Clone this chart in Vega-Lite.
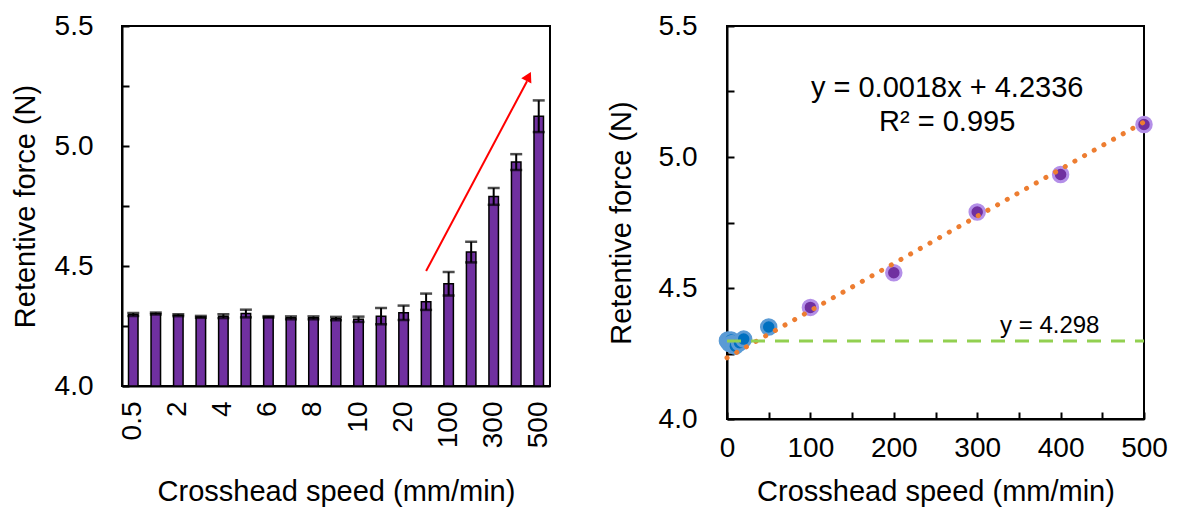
{
  "$schema": "https://vega.github.io/schema/vega-lite/v6.json",
  "background": "white",
  "padding": {"left": 10, "top": 11, "right": 0, "bottom": 0},
  "config": {
    "font": "Liberation Sans",
    "view": {"stroke": "black", "strokeWidth": 2},
    "axis": {
      "grid": false,
      "labelFlush": false,
      "domainColor": "black",
      "domainWidth": 2,
      "tickColor": "black",
      "tickWidth": 2,
      "labelColor": "black",
      "titleColor": "black",
      "labelFont": "Liberation Sans",
      "titleFont": "Liberation Sans",
      "labelFontSize": 28,
      "titleFontSize": 29,
      "titleFontWeight": "normal"
    }
  },
  "datasets": {
    "bars": [
      {"speed": 0.5, "label": "0.5", "force": 4.298, "sd": 0.006, "group": "low"},
      {"speed": 1, "label": "1", "force": 4.302, "sd": 0.004, "group": "low"},
      {"speed": 2, "label": "2", "force": 4.295, "sd": 0.004, "group": "low"},
      {"speed": 3, "label": "3", "force": 4.288, "sd": 0.004, "group": "low"},
      {"speed": 4, "label": "4", "force": 4.291, "sd": 0.008, "group": "low"},
      {"speed": 5, "label": "5", "force": 4.302, "sd": 0.016, "group": "low"},
      {"speed": 6, "label": "6", "force": 4.288, "sd": 0.003, "group": "low"},
      {"speed": 7, "label": "7", "force": 4.284, "sd": 0.006, "group": "low"},
      {"speed": 8, "label": "8", "force": 4.284, "sd": 0.006, "group": "low"},
      {"speed": 9, "label": "9", "force": 4.281, "sd": 0.007, "group": "low"},
      {"speed": 10, "label": "10", "force": 4.278, "sd": 0.011, "group": "low"},
      {"speed": 15, "label": "15", "force": 4.291, "sd": 0.034, "group": "low"},
      {"speed": 20, "label": "20", "force": 4.305, "sd": 0.03, "group": "low"},
      {"speed": 50, "label": "50", "force": 4.351, "sd": 0.034, "group": "low"},
      {"speed": 100, "label": "100", "force": 4.426, "sd": 0.049, "group": "high"},
      {"speed": 200, "label": "200", "force": 4.558, "sd": 0.043, "group": "high"},
      {"speed": 300, "label": "300", "force": 4.79, "sd": 0.035, "group": "high"},
      {"speed": 400, "label": "400", "force": 4.933, "sd": 0.033, "group": "high"},
      {"speed": 500, "label": "500", "force": 5.124, "sd": 0.066, "group": "high"}
    ],
    "arrow": [
      {"ax": 13.5, "ay": 4.479},
      {"ax": 17.98, "ay": 5.27}
    ],
    "arrowhead": [
      {"ax": 18.05, "ay": 5.29}
    ],
    "trend": [
      {"tx": 0, "ty": 4.2336},
      {"tx": 500, "ty": 5.1336}
    ],
    "base": [
      {"tx": 0, "ty": 4.298},
      {"tx": 500, "ty": 4.298}
    ],
    "eq": [
      {"tx": 264, "ty": 5.262, "text": "y = 0.0018x + 4.2336"},
      {"tx": 264, "ty": 5.134, "text": "R² = 0.995"}
    ],
    "baselab": [
      {"tx": 387, "ty": 4.355, "text": "y = 4.298"}
    ]
  },
  "spacing": 52,
  "hconcat": [
    {
      "width": 428,
      "height": 360,
      "layer": [
        {
          "data": {"name": "bars"},
          "layer": [
            {
              "mark": {"type": "bar", "size": 9.5, "fill": "#7030A0", "stroke": "black", "strokeWidth": 1.5},
              "encoding": {
                "x": {
                  "field": "label", "type": "ordinal", "sort": null,
                  "scale": {"paddingInner": 0.5, "paddingOuter": 0.25},
                  "axis": {
                    "values": ["0.5", "2", "4", "6", "8", "10", "20", "100", "300", "500"],
                    "labelAngle": -90, "ticks": false, "labelPadding": 15,
                    "title": "Crosshead speed (mm/min)", "titlePadding": 30
                  }
                },
                "y": {
                  "field": "force", "type": "quantitative",
                  "scale": {"domain": [4, 5.5], "nice": false, "zero": false},
                  "axis": {
                    "values": [4, 4.25, 4.5, 4.75, 5, 5.25, 5.5],
                    "labelExpr": "datum.value % 0.5 == 0 ? format(datum.value, '.1f') : ''",
                    "tickSize": -7, "labelPadding": 36,
                    "title": "Retentive force (N)", "titlePadding": 14
                  }
                },
                "y2": {"datum": 4}
              }
            },
            {
              "mark": {
                "type": "errorbar",
                "rule": {"strokeWidth": 2, "color": "black"},
                "ticks": {"size": 12, "thickness": 2.5, "color": "black"}
              },
              "encoding": {
                "x": {"field": "label", "type": "ordinal", "sort": null},
                "y": {"field": "force", "type": "quantitative", "title": "Retentive force (N)"},
                "yError": {"field": "sd"}
              }
            }
          ]
        },
        {
          "layer": [
            {
              "data": {"name": "arrow"},
              "mark": {"type": "line", "color": "#FF0000", "strokeWidth": 2},
              "encoding": {
                "x": {"field": "ax", "type": "quantitative", "scale": {"domain": [0, 19], "nice": false, "zero": false}, "axis": null},
                "y": {"field": "ay", "type": "quantitative", "title": "Retentive force (N)"}
              }
            },
            {
              "data": {"name": "arrowhead"},
              "mark": {"type": "point", "shape": "triangle-up", "filled": true, "color": "#FF0000", "size": 130, "angle": 27.5, "opacity": 1},
              "encoding": {
                "x": {"field": "ax", "type": "quantitative"},
                "y": {"field": "ay", "type": "quantitative", "title": "Retentive force (N)"}
              }
            }
          ]
        }
      ],
      "resolve": {"scale": {"x": "independent"}}
    },
    {
      "width": 417,
      "height": 393,
      "layer": [
        {
          "data": {"name": "bars"},
          "mark": {"type": "circle", "size": 210, "strokeWidth": 3, "opacity": 1},
          "encoding": {
            "x": {
              "field": "speed", "type": "quantitative",
              "scale": {"domain": [0, 500], "nice": false},
              "axis": {
                "values": [0, 50, 100, 150, 200, 250, 300, 350, 400, 450, 500],
                "labelExpr": "datum.value % 100 == 0 ? format(datum.value, 'd') : ''",
                "tickSize": -7, "labelPadding": 22,
                "title": "Crosshead speed (mm/min)", "titlePadding": 15
              }
            },
            "y": {
              "field": "force", "type": "quantitative",
              "scale": {"domain": [4, 5.5], "nice": false, "zero": false},
              "axis": {
                "values": [4, 4.25, 4.5, 4.75, 5, 5.25, 5.5],
                "labelExpr": "datum.value % 0.5 == 0 ? format(datum.value, '.1f') : ''",
                "tickSize": -7, "labelPadding": 37,
                "title": "Retentive force (N)", "titlePadding": 22
              }
            },
            "fill": {"field": "group", "type": "nominal", "scale": {"domain": ["low", "high"], "range": ["#0070C0", "#7030A0"]}, "legend": null},
            "stroke": {"field": "group", "type": "nominal", "scale": {"domain": ["low", "high"], "range": ["#5B9BD5", "#B48FE8"]}, "legend": null}
          }
        },
        {
          "data": {"name": "trend"},
          "mark": {"type": "line", "color": "#ED7D31", "strokeWidth": 5, "strokeCap": "round", "strokeDash": [0.1, 11]},
          "encoding": {
            "x": {"field": "tx", "type": "quantitative"},
            "y": {"field": "ty", "type": "quantitative"}
          }
        },
        {
          "data": {"name": "base"},
          "mark": {"type": "line", "color": "#92D050", "strokeWidth": 3, "strokeDash": [14, 10]},
          "encoding": {
            "x": {"field": "tx", "type": "quantitative"},
            "y": {"field": "ty", "type": "quantitative"}
          }
        },
        {
          "data": {"name": "eq"},
          "mark": {"type": "text", "fontSize": 29, "color": "black", "baseline": "middle", "align": "center", "font": "Liberation Sans"},
          "encoding": {
            "x": {"field": "tx", "type": "quantitative"},
            "y": {"field": "ty", "type": "quantitative"},
            "text": {"field": "text"}
          }
        },
        {
          "data": {"name": "baselab"},
          "mark": {"type": "text", "fontSize": 24, "color": "black", "baseline": "middle", "align": "center", "font": "Liberation Sans"},
          "encoding": {
            "x": {"field": "tx", "type": "quantitative"},
            "y": {"field": "ty", "type": "quantitative"},
            "text": {"field": "text"}
          }
        }
      ]
    }
  ]
}
